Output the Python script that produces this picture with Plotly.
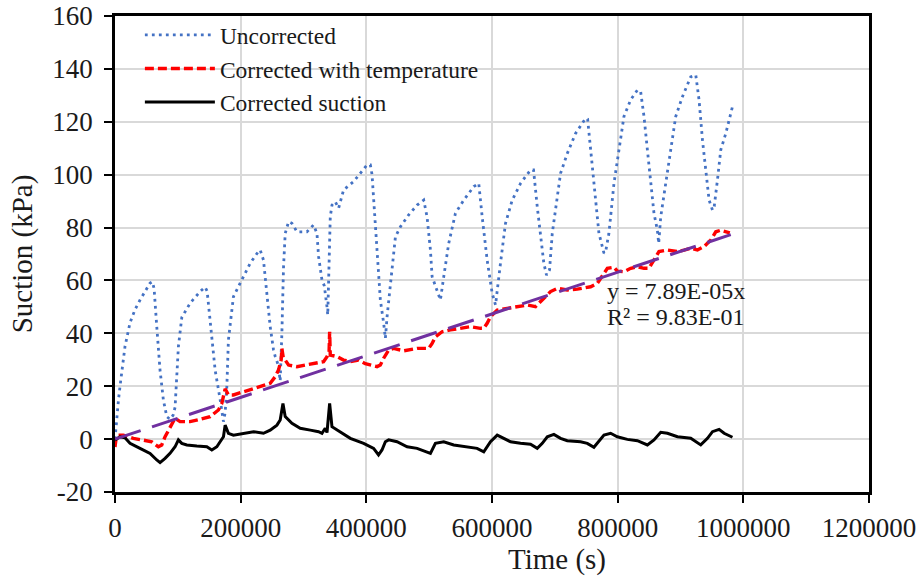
import plotly.graph_objects as go

# ---- data ----
t_uncorr = [0, 2700, 5600, 8000, 12000, 15900, 23900, 31900, 39800, 47800, 55800, 59400, 62200, 66500,
            71700, 77000, 82400, 87600, 92400, 95600, 100900, 106300, 119500, 135500, 143400, 146600,
            151400, 159400, 167300, 172600, 175300, 178000, 180500, 188500, 199200, 215100, 228400,
            231100, 236300, 241800, 247000, 252300, 255000, 259800, 262900, 265600, 268200, 270900,
            276200, 281600, 289600, 305500, 316000, 321400, 324000, 329400, 333100, 337400, 338600,
            339900, 342600, 345300, 350600, 355900, 363800, 379800, 390400, 401100, 406400, 409100,
            417000, 422300, 427600, 430300, 433000, 438300, 446300, 454200, 467400, 480800, 491300,
            496700, 502000, 504700, 509900, 517900, 523200, 531100, 541800, 555100, 571000, 578900,
            584400, 592300, 600300, 605600, 613500, 621500, 632200, 645400, 661300, 666100, 672000,
            677300, 682500, 686800, 691600, 695900, 703900, 709100, 719800, 733000, 749000, 752200,
            759700, 764900, 770200, 778200, 780900, 786100, 794100, 802100, 810000, 820700, 831400,
            836600, 841900, 847300, 852500, 857800, 863200, 865300, 868500, 876500, 884400, 892400,
            903100, 916300, 924300, 929500, 935000, 940200, 945500, 950900, 953700, 958800, 964100,
            972100, 982700]
v_uncorr = [0, 8.5, 15, 20, 28, 35, 44, 49, 52.6, 56, 59, 59.5, 57, 42.5,
            26, 14.8, 8.5, 7.5, 9, 12, 35, 46, 51.4, 55.8, 57.5, 56,
            45, 26, 15, 6.6, 10, 19.8, 37.5, 53.9, 59, 66.5, 71,
            71.5, 67.7, 55.1, 42.5, 33.7, 31.2, 28, 22, 40, 65, 77.8,
            82.2, 81.6, 78.4, 78.4, 81, 77.8, 69, 60.2, 58, 50, 47,
            59, 84, 88.5, 89.8, 87.3, 94.2, 97.4, 100.5, 103.7, 103.7, 100,
            71.5, 52.6, 43.8, 38.1, 46.3, 58.9, 76.5, 80.3, 84.8, 88.5, 90.4,
            84, 71.5, 61.4, 57.6, 52.6, 61.4, 74, 85.4, 90.4, 95.5, 96.7,
            84, 67.7, 55.1, 50.7, 66.5, 81.6, 90.4, 96.7, 101.8, 101.8, 87.9,
            77.8, 66.5, 62, 64, 77.8, 90.4, 100.5, 108, 115.6, 121.3, 121,
            103, 90.4, 77.8, 70.3, 71, 77.8, 96.7, 109.4, 122, 128.3, 132,
            131.4, 122, 109.4, 96.7, 85.4, 79, 74, 84, 96.7, 109.4, 122,
            129.5, 137, 137.7, 128.3, 113, 100.5, 90.4, 86.6, 88, 98, 109.4,
            115.6, 125.7]

t_temp = [0, 1600, 4800, 13200, 29200, 45100, 58500, 69000, 74400, 79700, 84900, 90400, 95600,
          103600, 119500, 135500, 151400, 164600, 170000, 175300, 180500, 188500, 204400, 220400,
          236300, 247000, 255000, 260200, 264500, 265600, 267700, 270900, 276200, 289600, 305500,
          321400, 331900, 337400, 340700, 341600, 342600, 353300, 363800, 374500, 387700, 398400,
          406400, 417000, 422300, 427600, 435500, 443300, 459400, 480800, 499300, 504700, 509900,
          520600, 533900, 549800, 565700, 581700, 586900, 592300, 597600, 608300, 624200, 640100,
          656100, 669300, 677300, 685200, 693200, 703900, 719800, 735800, 746300, 757000, 767700,
          775700, 783600, 794100, 799400, 810000, 820700, 831400, 841900, 849700, 857800, 865800,
          879200, 895200, 905500, 916300, 926900, 937500, 948200, 956200, 964100, 974900, 978500]
v_temp = [-3, 0, 1.5, 1.5, 0.3, -0.3, -1, -2.9, -2.2, 0.9, 3.4, 6, 7.9,
          6.6, 6.6, 7.5, 8.5, 11, 13.5, 19, 16.7, 16.7, 17.9, 19.2,
          20.5, 21.1, 23.6, 26.1, 30, 34.3, 31, 29.9, 28, 27.4, 28,
          28.7, 29.3, 31.2, 33, 40.6, 31.8, 31.2, 29.9, 29.3, 29.9, 28.5,
          28, 27.4, 28, 30.6, 33.7, 34.3, 33.4, 34.3, 34.3, 36.2, 38.7,
          40.6, 41.3, 41.9, 42.5, 41.9, 41.9, 43.8, 46.3, 48.8, 49.5, 50.1,
          50.7, 50.1, 52, 53.9, 55.8, 57, 56.4, 56.7, 57, 57.6, 58.9,
          62, 64.6, 65, 63.5, 63.3, 64.6, 65.2, 64.6, 64.6, 67.7, 70.9,
          71.5, 70.9, 71.5, 72.2, 71.5, 72.8, 75.3, 78.4, 79, 78.4, 78]

t_corr = [0, 8000, 15900, 23900, 39800, 55800, 66500, 71700, 79700, 87600, 95600, 100900, 106300,
          114300, 130200, 146100, 154100, 162100, 167300, 172600, 175300, 180500, 188500, 204400,
          220400, 236300, 247000, 257700, 262900, 267300, 270900, 281600, 294800, 310800, 324000,
          329400, 334600, 337400, 341600, 345300, 358600, 374500, 395700, 411600, 419400, 424900,
          430300, 435500, 448900, 464900, 480800, 496700, 502000, 509900, 523200, 539100, 560400,
          576300, 586900, 597600, 608300, 618800, 629500, 645400, 661300, 672000, 680000, 688000,
          698500, 709100, 719800, 741000, 751700, 762200, 770200, 778200, 788800, 799400, 815400,
          831400, 847300, 857800, 868500, 879200, 895200, 916300, 932200, 942900, 950900, 961400,
          969400, 982700]
v_corr = [-0.3, 0.9, 0.5, -1.6, -3.5, -5.4, -7.9, -8.9, -7.3, -5.4, -2.9, -0.3, -1.6,
          -2.2, -2.6, -2.9, -4.1, -2.9, -1, 0.9, 5.3, 2.2, 1.5, 2.2,
          2.8, 2.2, 3.4, 5.3, 7.2, 13.5, 8.5, 6, 4.1, 3.4, 2.8,
          2.2, 4.1, 2.5, 13.5, 4.7, 2.8, 0.3, -1.6, -3.5, -6, -4.1,
          -1, -0.3, -1, -2.9, -3.5, -4.8, -5.4, -1.6, -1, -2.2, -2.9,
          -3.5, -4.8, -1, 1.5, 0.3, -1, -1.6, -1.9, -3.5, -1.6, 0.9,
          1.8, 0.3, -0.6, -1, -1.6, -3.1, -1, 1.5, 2.2, 0.9, -0.1,
          -0.6, -2.2, -0.3, 2.6, 2.2, 0.9, 0.3, -2.2, 0.3, 2.8, 3.7,
          2.2, 0.7]

trend_slope = 7.89e-05
trend_t = [0, 980000]
trend_label = "y = 7.89E-05x"
r2_label = "R² = 9.83E-01"

x_tickvals = [0, 200000, 400000, 600000, 800000, 1000000, 1200000]
x_ticktext = ["0", "200000", "400000", "600000", "800000", "1000000", "1200000"]
y_tickvals = [-20, 0, 20, 40, 60, 80, 100, 120, 140, 160]
y_ticktext = ["-20", "0", "20", "40", "60", "80", "100", "120", "140", "160"]
x_title = "Time (s)"
y_title = "Suction (kPa)"

FONT = "Liberation Serif, Times New Roman, serif"
TXT = "#1a1a1a"

fig = go.Figure()
fig.add_trace(go.Scatter(x=t_uncorr, y=v_uncorr, mode="lines", name="Uncorrected",
                         line=dict(color="#4472C4", width=2.8, dash="2.8px,4.2px")))
fig.add_trace(go.Scatter(x=t_temp, y=v_temp, mode="lines", name="Corrected with temperature",
                         line=dict(color="#FF0000", width=3.4, dash="9px,4px")))
fig.add_trace(go.Scatter(x=t_corr, y=v_corr, mode="lines", name="Corrected suction",
                         line=dict(color="#000000", width=3)))
fig.add_trace(go.Scatter(x=trend_t, y=[trend_slope * t for t in trend_t], mode="lines",
                         line=dict(color="#7030A0", width=3, dash="27px,12px"),
                         showlegend=False, hoverinfo="skip"))

fig.add_annotation(x=0.65, y=0.422, xref="paper", yref="paper", text=trend_label,
                   showarrow=False, xanchor="left", yanchor="middle",
                   font=dict(family=FONT, size=24, color=TXT))
fig.add_annotation(x=0.65, y=0.367, xref="paper", yref="paper", text=r2_label,
                   showarrow=False, xanchor="left", yanchor="middle",
                   font=dict(family=FONT, size=24, color=TXT))
# x-axis title (offset to the right as in the original)
fig.add_annotation(x=0.586, y=-0.141, xref="paper", yref="paper", text=x_title,
                   showarrow=False, xanchor="center", yanchor="middle",
                   font=dict(family=FONT, size=29, color=TXT))

axis_common = dict(showline=True, linecolor="black", linewidth=2.8, mirror=True,
                   showgrid=True, gridcolor="#D9D9D9", gridwidth=1.6, zeroline=False,
                   ticks="outside", tickcolor="black", tickwidth=1.6, ticklen=8,
                   automargin=False,
                   tickfont=dict(family=FONT, size=27, color=TXT))

fig.update_layout(
    width=921, height=579,
    margin=dict(l=115, r=52, t=16, b=87),
    paper_bgcolor="white", plot_bgcolor="white",
    font=dict(family=FONT, color=TXT),
    xaxis=dict(range=[0, 1200000], tickvals=x_tickvals, ticktext=x_ticktext,
               ticklabelstandoff=2, **axis_common),
    yaxis=dict(range=[-20, 160], tickvals=y_tickvals, ticktext=y_ticktext,
               ticklabelstandoff=6,
               title=dict(text=y_title, font=dict(family=FONT, size=29), standoff=12),
               **axis_common),
    legend=dict(x=0.033, y=1.006, xanchor="left", yanchor="top", bgcolor="rgba(0,0,0,0)",
                font=dict(family=FONT, size=23.5, color=TXT), itemwidth=70,
                tracegroupgap=0),
    showlegend=True,
)

fig.write_html("out.html")
